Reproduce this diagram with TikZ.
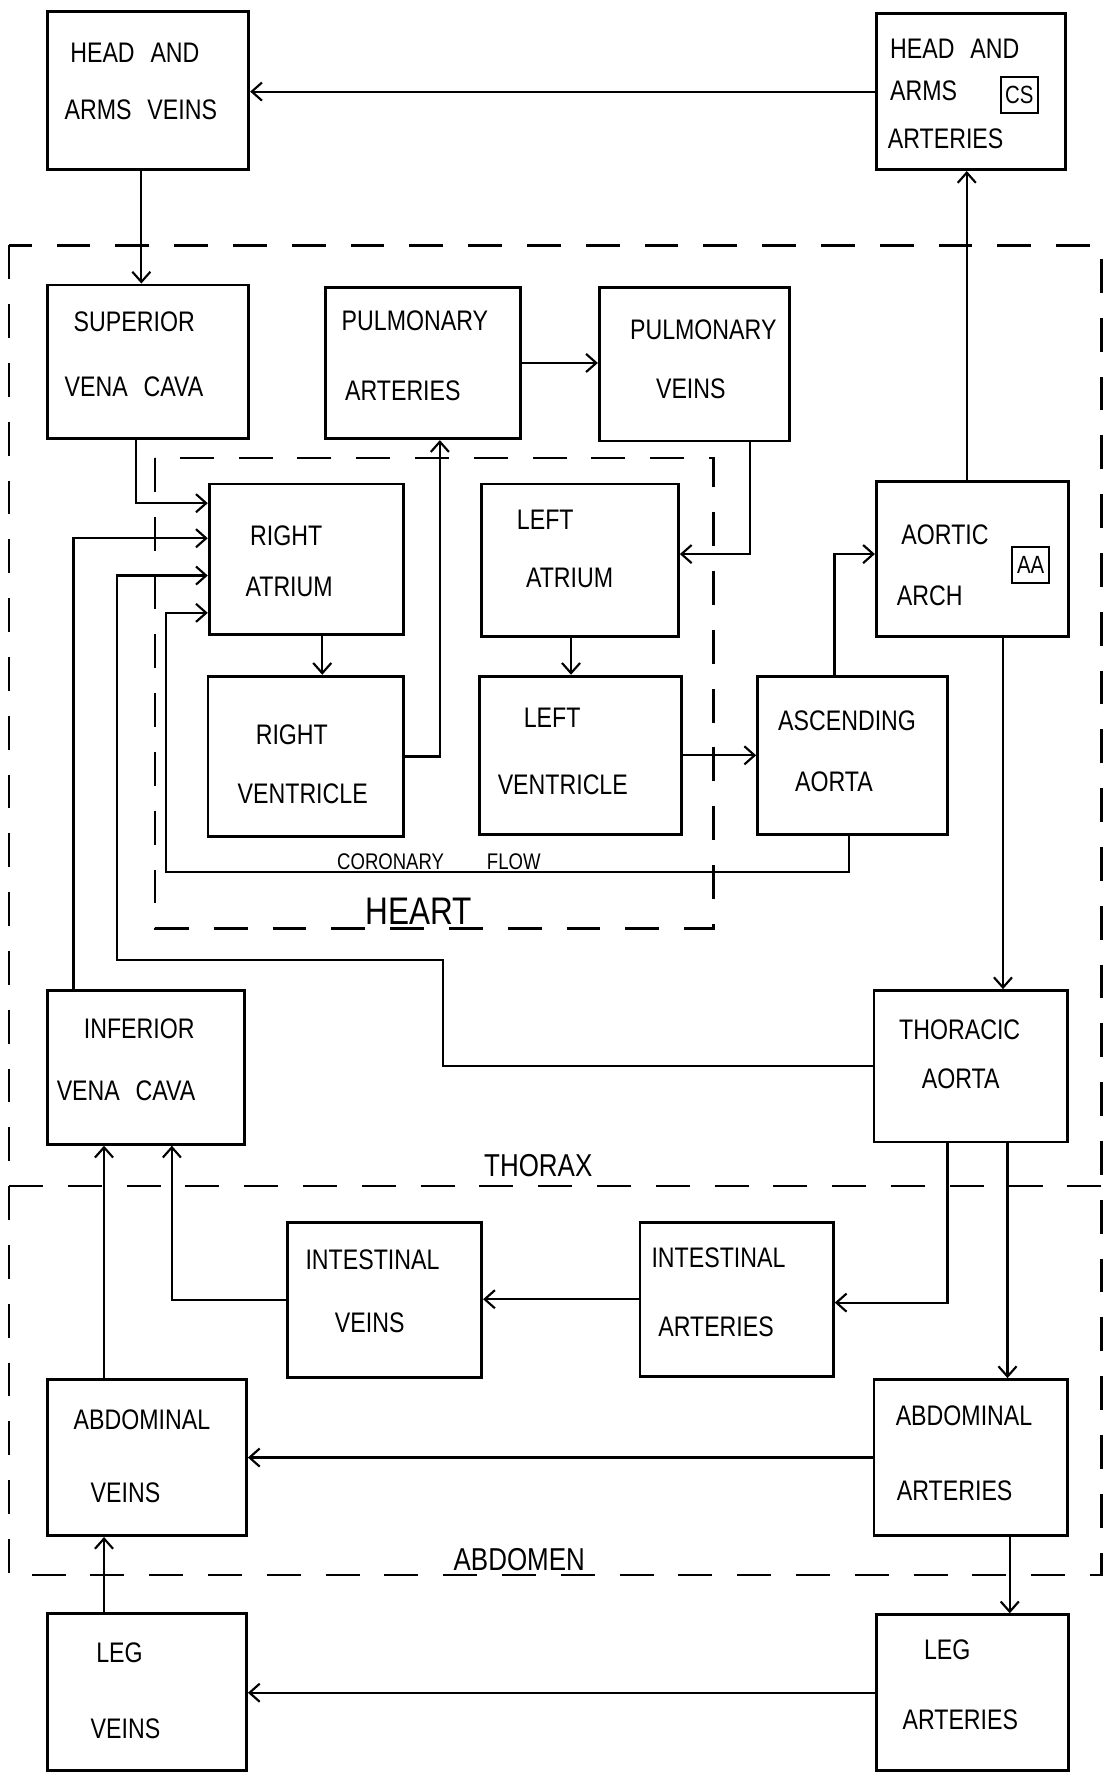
\documentclass[tikz,border=0pt]{standalone}
\usepackage{fontspec}
\newfontfamily\hand[FakeStretch=0.82]{Liberation Sans}
\usetikzlibrary{arrows.meta}
\newcommand\wgap{\hspace{14pt}}
\begin{document}
\begin{tikzpicture}[x=1pt,y=-1pt,
  box/.style={draw, line width=2.5pt, inner sep=0pt},
  sbox/.style={draw, line width=1.8pt, inner sep=0pt, minimum width=33pt, minimum height=32pt, font=\hand\fontsize{22}{22}\selectfont},
  lbl/.style={anchor=west, inner sep=0pt, font=\hand\fontsize{25}{25}\selectfont},
  region/.style={anchor=west, inner sep=0pt, font=\hand\fontsize{28}{28}\selectfont},
  conn/.style={line width=1.9pt},
  arr/.style={conn, -{Straight Barb[length=9pt,width=16pt]}},
  dsh/.style={line width=2.2pt, dash pattern=on 30pt off 22pt},
]
\useasboundingbox[fill=white] (0,0) rectangle (984,1568);

% dashed regions
\draw[dsh] (8,217) rectangle (974,1393);
\draw[dsh] (8,1049) -- (974,1049);
\draw[dsh] (137,405) rectangle (631,821);

% boxes
\node[box, minimum width=178pt, minimum height=140pt] (hav) at (131,80) {};
\node[box, minimum width=167pt, minimum height=138pt] (haa) at (858.5,81) {};
\node[box, minimum width=178pt, minimum height=136pt] (svc) at (131,320) {};
\node[box, minimum width=172pt, minimum height=134pt] (pa) at (374,321) {};
\node[box, minimum width=168pt, minimum height=136pt] (pv) at (614,322) {};
\node[box, minimum width=172pt, minimum height=133pt] (ra) at (271,494.5) {};
\node[box, minimum width=174pt, minimum height=135pt] (la) at (513,495.5) {};
\node[box, minimum width=170pt, minimum height=137pt] (aoa) at (860,494.5) {};
\node[box, minimum width=173pt, minimum height=142pt] (rv) at (270.5,669) {};
\node[box, minimum width=179pt, minimum height=140pt] (lv) at (513.5,668) {};
\node[box, minimum width=168pt, minimum height=140pt] (asa) at (754,668) {};
\node[box, minimum width=174pt, minimum height=136pt] (ivc) at (129,944) {};
\node[box, minimum width=171pt, minimum height=134pt] (ta) at (858.5,943) {};
\node[box, minimum width=172pt, minimum height=137pt] (iv) at (340,1149.5) {};
\node[box, minimum width=171pt, minimum height=136pt] (ia) at (651.5,1149) {};
\node[box, minimum width=176pt, minimum height=138pt] (abv) at (130,1289) {};
\node[box, minimum width=171pt, minimum height=138pt] (aba) at (858.5,1289) {};
\node[box, minimum width=176pt, minimum height=139pt] (lgv) at (130,1496.5) {};
\node[box, minimum width=170pt, minimum height=138pt] (lga) at (860,1497) {};

\node[sbox] (cs) at (901.5,84) {CS};
\node[sbox] (aa) at (911.5,500) {AA};

% texts
\node[lbl] (t-hav1) at (62,47) {HEAD\wgap AND};
\node[lbl] (t-hav2) at (57,97) {ARMS\wgap VEINS};
\node[lbl] (t-haa1) at (787,43) {HEAD\wgap AND};
\node[lbl] (t-haa2) at (787,80) {ARMS};
\node[lbl] (t-haa3) at (785,123) {ARTERIES};
\node[lbl] (t-svc1) at (65,285) {SUPERIOR};
\node[lbl] (t-svc2) at (57,342) {VENA\wgap CAVA};
\node[lbl] (t-pa1) at (302,284) {PULMONARY};
\node[lbl] (t-pa2) at (305,346) {ARTERIES};
\node[lbl] (t-pv1) at (557,292) {PULMONARY};
\node[lbl] (t-pv2) at (580,344) {VEINS};
\node[lbl] (t-ra1) at (221,474) {RIGHT};
\node[lbl] (t-ra2) at (217,519) {ATRIUM};
\node[lbl] (t-la1) at (457,460) {LEFT};
\node[lbl] (t-la2) at (465,511) {ATRIUM};
\node[lbl] (t-aoa1) at (797,473) {AORTIC};
\node[lbl] (t-aoa2) at (793,527) {ARCH};
\node[lbl] (t-rv1) at (226,650) {RIGHT};
\node[lbl] (t-rv2) at (210,702) {VENTRICLE};
\node[lbl] (t-lv1) at (463,635) {LEFT};
\node[lbl] (t-lv2) at (440,694) {VENTRICLE};
\node[lbl] (t-asa1) at (688,637) {ASCENDING};
\node[lbl] (t-asa2) at (703,691) {AORTA};
\node[lbl] (t-ivc1) at (74,910) {INFERIOR};
\node[lbl] (t-ivc2) at (50,965) {VENA\wgap CAVA};
\node[lbl] (t-ta1) at (795,911) {THORACIC};
\node[lbl] (t-ta2) at (815,954) {AORTA};
\node[lbl] (t-iv1) at (270,1114) {INTESTINAL};
\node[lbl] (t-iv2) at (296,1170) {VEINS};
\node[lbl] (t-ia1) at (576,1112) {INTESTINAL};
\node[lbl] (t-ia2) at (582,1173) {ARTERIES};
\node[lbl] (t-abv1) at (65,1256) {ABDOMINAL};
\node[lbl] (t-abv2) at (80,1320) {VEINS};
\node[lbl] (t-aba1) at (792,1252) {ABDOMINAL};
\node[lbl] (t-aba2) at (793,1318) {ARTERIES};
\node[lbl] (t-lgv1) at (85,1462) {LEG};
\node[lbl] (t-lgv2) at (80,1529) {VEINS};
\node[lbl] (t-lga1) at (817,1459) {LEG};
\node[lbl] (t-lga2) at (798,1521) {ARTERIES};

\node[anchor=west, inner sep=0pt, font=\hand\fontsize{20}{20}\selectfont] (t-cor) at (298,762) {CORONARY\hspace{38pt}FLOW};
\node[anchor=west, inner sep=0pt, font=\hand\fontsize{34}{34}\selectfont] (t-heart) at (323,806) {HEART};
\node[region] (t-thorax) at (428,1031) {THORAX};
\node[region] (t-abdomen) at (401,1379) {ABDOMEN};

% connectors
\draw[arr] (haa.west) -- (haa.west -| hav.east);
\draw[arr] ([xshift=-6pt]hav.south) -- ([xshift=-6pt]svc.north);
\draw[arr] ([xshift=-5pt]aoa.north) -- ([xshift=-3.5pt]haa.south);
\draw[arr] (pa.east) -- (pa.east -| pv.west);
\draw[arr] ([xshift=-11pt]svc.south) |- ([yshift=49.5pt]ra.west);
\draw[arr] ([xshift=-64pt]ivc.north) |- ([yshift=18.5pt]ra.west);
\coordinate (tr1) at (392,849);
\coordinate (tr2) at (103.5,849);
\draw[arr] (ta.west) -| (tr1) -- (tr2) |- ([yshift=-14.5pt]ra.west);
\coordinate (cor) at (147,771);
\draw[arr] ([xshift=-3pt]asa.south) |- (cor) |- ([yshift=-47.5pt]ra.west);
\draw[arr] ([xshift=14pt]ra.south) -- ([xshift=14.5pt]rv.north);
\draw[arr] (rv.east) -| ([xshift=15pt]pa.south);
\draw[arr] ([xshift=49pt]pv.south) |- ([yshift=5.5pt]la.east);
\draw[arr] ([xshift=-8pt]la.south) -- ([xshift=-8.5pt]lv.north);
\draw[arr] (lv.east) -- (lv.east -| asa.west);
\draw[arr] ([xshift=-16pt]asa.north) |- ([yshift=4.5pt]aoa.west);
\draw[arr] ([xshift=27pt]aoa.south) -- ([xshift=28.5pt]ta.north);
\draw[arr] ([xshift=-20.5pt]ta.south) |- ([yshift=-3pt]ia.east);
\draw[arr] ([xshift=32.5pt]ta.south) -- ([xshift=32.5pt]aba.north);
\draw[arr] (ia.west) -- (ia.west -| iv.east);
\draw[arr] (iv.west) -| ([xshift=23pt]ivc.south);
\draw[arr] ([xshift=-38pt]abv.north) -- ([xshift=-37pt]ivc.south);
\draw[arr] (aba.west) -- (aba.west -| abv.east);
\draw[arr] ([xshift=34.5pt]aba.south) -- ([xshift=33pt]lga.north);
\draw[arr] (lga.west) -- (lga.west -| lgv.east);
\draw[arr] ([xshift=-38pt]lgv.north) -- ([xshift=-38pt]abv.south);
\end{tikzpicture}
\end{document}
